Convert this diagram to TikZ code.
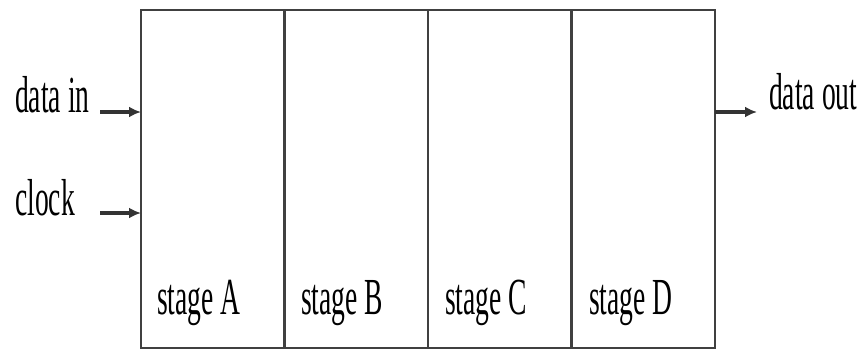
\documentclass[tikz,border=0pt]{standalone}
\usepackage{fontspec}
\usepackage{graphicx}
\setmainfont{Liberation Serif}
\usetikzlibrary{arrows.meta}
\newcommand{\cond}[1]{\scalebox{0.53}[1]{\fontsize{52}{56}\selectfont #1}}
\begin{document}
\begin{tikzpicture}[x=1pt,y=-1pt,
  stagebox/.style={draw=black!75,line width=2.2pt,minimum width=143.5pt,minimum height=338pt,inner sep=0pt,outer sep=0pt,anchor=north west},
  lbl/.style={inner sep=0pt,anchor=base west},
  sig/.style={line width=3.2pt,draw=black!80,-{Latex[length=12pt,width=11pt]}}]
\useasboundingbox (0,0) rectangle (866,351);
\node[stagebox] (A) at (141,10) {};
\node[stagebox] (B) at (284.5,10) {};
\node[stagebox] (C) at (428,10) {};
\node[stagebox] (D) at (571.5,10) {};
\node[lbl] (la) at (157,314) {\cond{stage A}};
\node[lbl] (lb) at (301,314) {\cond{stage B}};
\node[lbl] (lc) at (445,314) {\cond{stage C}};
\node[lbl] (ld) at (589,314) {\cond{stage D}};
\node[lbl] (din) at (15,112) {\cond{data in}};
\node[lbl] (clk) at (15,215) {\cond{clock}};
\node[lbl] (dout) at (769,109) {\cond{data out}};
\coordinate (dinS) at (100,112);
\coordinate (clkS) at (100,213);
\coordinate (doutE) at (757,112);
\draw[sig] (dinS) -- (dinS -| A.west);
\draw[sig] (clkS) -- (clkS -| A.west);
\draw[sig] (doutE -| D.east) -- (doutE);
\end{tikzpicture}
\end{document}
